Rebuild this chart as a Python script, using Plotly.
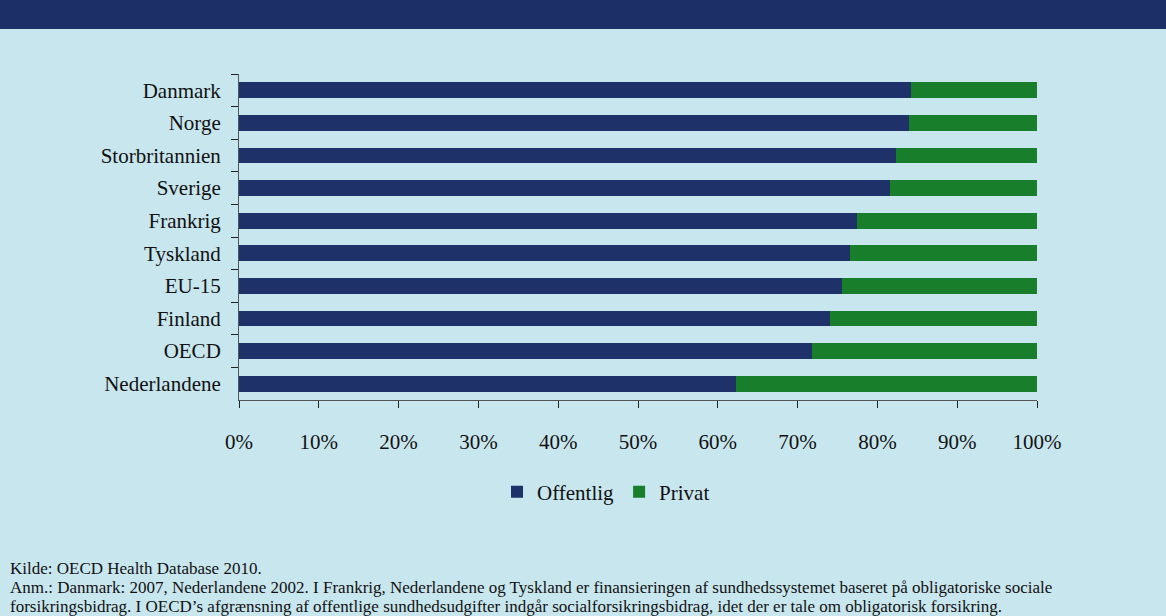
import plotly.graph_objects as go

categories = ["Danmark", "Norge", "Storbritannien", "Sverige", "Frankrig",
              "Tyskland", "EU-15", "Finland", "OECD", "Nederlandene"]
offentlig = [84.2, 84.0, 82.3, 81.6, 77.5, 76.6, 75.6, 74.0, 71.8, 62.3]
privat = [round(100 - v, 1) for v in offentlig]
x_ticks = [0, 10, 20, 30, 40, 50, 60, 70, 80, 90, 100]
x_tick_labels = [f"{t}%" for t in x_ticks]

footer_lines = [
    "Kilde: OECD Health Database 2010.",
    "Anm.: Danmark: 2007, Nederlandene 2002. I Frankrig, Nederlandene og Tyskland er finansieringen af sundhedssystemet baseret på obligatoriske sociale",
    "forsikringsbidrag. I OECD’s afgrænsning af offentlige sundhedsudgifter indgår socialforsikringsbidrag, idet der er tale om obligatorisk forsikring.",
]

BG = "#C8E6EE"
NAVY = "#1E3168"
GREEN = "#187E2C"
BAND = "#1C2F66"
FONT = "Liberation Serif"

fig = go.Figure()
fig.add_trace(go.Bar(y=categories, x=offentlig, name="Offentlig", orientation="h",
                     marker=dict(color=NAVY, line=dict(width=0)), hoverinfo="skip"))
fig.add_trace(go.Bar(y=categories, x=privat, name="Privat", orientation="h",
                     marker=dict(color=GREEN, line=dict(width=0)), hoverinfo="skip"))

W, H = 1166, 616
L, R, T, B = 239, 129, 74, 216
pw, ph = W - L - R, H - T - B

def px_x(x):
    return (x - L) / pw

def px_y(y):
    return (H - B - y) / ph

# dark title band at top
fig.add_shape(type="rect", xref="paper", yref="paper",
              x0=px_x(-2), x1=px_x(W + 2), y0=px_y(29), y1=px_y(-2),
              fillcolor=BAND, line=dict(width=0), layer="below")

ys = [568, 587, 606]
for line, yy in zip(footer_lines, ys):
    fig.add_annotation(text=line, xref="paper", yref="paper",
                       x=px_x(8), y=px_y(yy), xanchor="left", yanchor="middle",
                       showarrow=False, font=dict(family=FONT, size=17, color="#111"))

fig.update_layout(
    width=W, height=H,
    margin=dict(l=L, r=R, t=T, b=B, autoexpand=False),
    paper_bgcolor=BG, plot_bgcolor=BG,
    barmode="stack", bargap=0.51,
    font=dict(family=FONT, size=21, color="#111"),
    showlegend=True,
    legend=dict(orientation="h", x=px_x(606), y=px_y(492), xanchor="center", yanchor="middle",
                font=dict(family=FONT, size=21, color="#111"), bgcolor="rgba(0,0,0,0)",
                itemwidth=30, traceorder="normal"),
    xaxis=dict(range=[0, 100], tickvals=x_ticks, ticktext=x_tick_labels,
               showgrid=False, zeroline=False, showline=True, linecolor="#555", linewidth=1,
               ticks="outside", ticklen=7, tickcolor="#222", ticklabelstandoff=16,
               tickfont=dict(family=FONT, size=21, color="#111")),
    yaxis=dict(categoryorder="array", categoryarray=categories, autorange="reversed",
               showgrid=False, zeroline=False, showline=True, linecolor="#555", linewidth=1,
               ticks="outside", ticklen=7, tickcolor="#222", tickson="boundaries",
               ticklabelstandoff=13,
               tickfont=dict(family=FONT, size=21, color="#111")),
)

fig.write_html("out.html", config={"displayModeBar": False},
               post_script="document.body.style.margin='0';document.body.style.background='" + BG + "';")
